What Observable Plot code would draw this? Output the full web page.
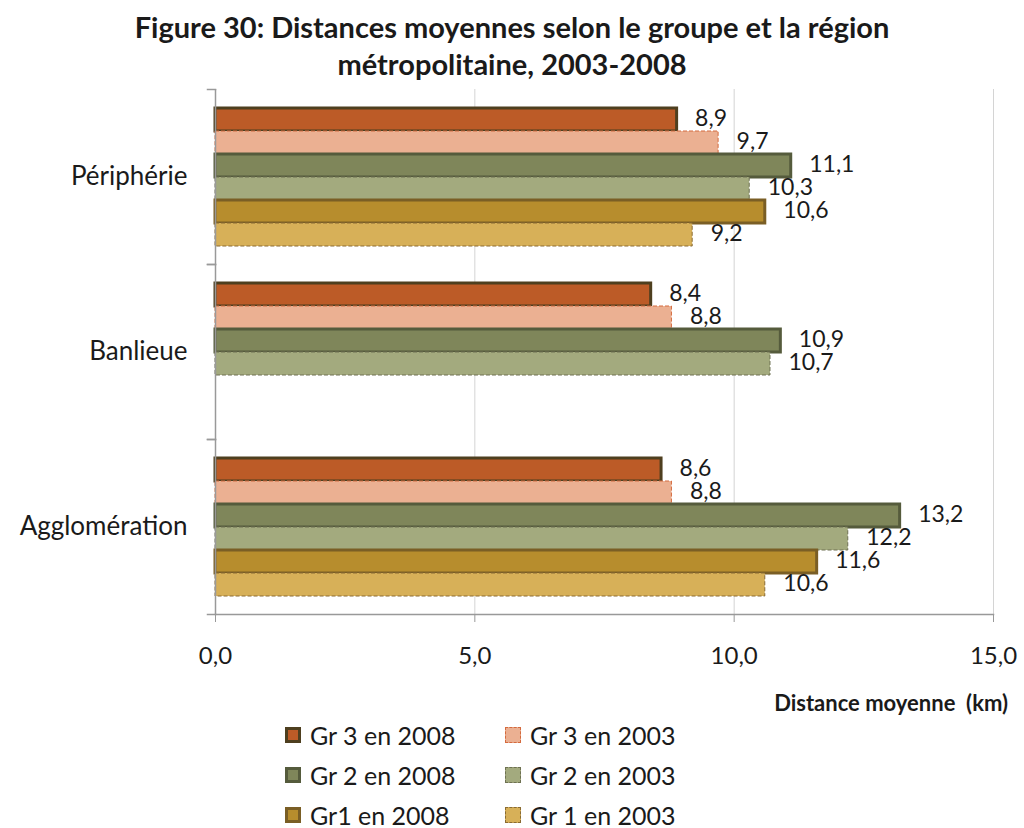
<!DOCTYPE html>
<html>
<head>
<meta charset="utf-8">
<script src="https://cdn.jsdelivr.net/npm/d3@7"></script>
<script src="https://cdn.jsdelivr.net/npm/@observablehq/plot@0.6"></script>
<style>
  body { margin: 0; background: #fff; font-family: Lato, "Open Sans", sans-serif; color: #1a1a1a; }
  #wrap { position: relative; width: 1024px; height: 828px; }
  #title { position: absolute; left: 0; top: 8px; width: 1024px; text-align: center; font-weight: bold; font-size: 29px; line-height: 37px; }
  #chart { position: absolute; left: 0; top: 80px; }
  #xlabel { position: absolute; right: 16px; top: 689px; font-weight: bold; font-size: 22px; }
  .leg { position: absolute; font-size: 25px; display: flex; align-items: center; white-space: nowrap; }
  .sw { width: 16px; height: 16px; box-sizing: border-box; margin-right: 9px; }
</style>
</head>
<body>
<div id="wrap">
  <div id="title">Figure 30: Distances moyennes selon le groupe et la région<br>métropolitaine, 2003-2008</div>
  <div id="chart"></div>
  <div id="xlabel">Distance moyenne&nbsp; (km)</div>
  <div id="legend"></div>
</div>
<script>
// ---- data ----
const regions = ["Périphérie", "Banlieue", "Agglomération"];
const series = ["Gr 3 en 2008", "Gr 3 en 2003", "Gr 2 en 2008", "Gr 2 en 2003", "Gr1 en 2008", "Gr 1 en 2003"];
const peripherie = [8.9, 9.7, 11.1, 10.3, 10.6, 9.2];
const banlieue = [8.4, 8.8, 10.9, 10.7, null, null];
const agglomeration = [8.6, 8.8, 13.2, 12.2, 11.6, 10.6];
const xTicks = [0, 5, 10, 15];

// ---- styles ----
const fills = ["#BC5B27", "#EBB092", "#7F865A", "#A3AA7E", "#B78D2D", "#D7B058"];
const strokes = ["#4E3F1F", "#D46A3E", "#555B3C", "#6E7152", "#7A5E25", "#8A6B32"];
const solid = [true, false, true, false, true, false];

const valuesByRegion = [peripherie, banlieue, agglomeration];
const rows = [];
regions.forEach((r, i) => series.forEach((s, j) => {
  rows.push({region: r, series: s, value: valuesByRegion[i][j]});
}));

const fmt = v => v == null ? "" : (+v).toFixed(1).replace(".", ",");

const W = 1024, mL = 215, mR = 31;
const plotW = W - mL - mR;

const barMarks = series.map((s, j) => Plot.barX(rows, {
  filter: d => d.series === s && d.value != null,
  x: "value", y: "series",
  fill: fills[j], stroke: strokes[j],
  strokeWidth: solid[j] ? 3 : 1,
  strokeDasharray: solid[j] ? null : "4,2",
  insetTop: 0, insetBottom: 0
}));

const chart = Plot.plot({
  width: W, height: 595,
  marginLeft: mL, marginRight: mR, marginTop: 8, marginBottom: 60,
  style: {fontSize: "24px", fontFamily: "Lato, 'Open Sans', sans-serif", color: "#1a1a1a", background: "white"},
  facet: {data: rows, y: "region"},
  fy: {domain: regions, padding: 0},
  y: {domain: series, paddingInner: 0, paddingOuter: 0.667, axis: null},
  x: {domain: [0, 15]},
  marks: [
    Plot.ruleX([5, 10, 15], {stroke: "#d4d4d4", strokeWidth: 1}),
    ...barMarks,
    Plot.ruleX([0], {stroke: "#999", strokeWidth: 1.5}),
    Plot.frame({anchor: "top", stroke: "#999", strokeWidth: 1.5, insetLeft: -8, insetRight: plotW}),
    Plot.frame({anchor: "bottom", stroke: "#999", strokeWidth: 1.5, insetLeft: -8, insetRight: plotW}),
    Plot.frame({anchor: "bottom", stroke: "#999", strokeWidth: 1.5, facetAnchor: "bottom"}),
    Plot.text(rows, {
      filter: d => d.value != null,
      x: "value", y: "series", text: d => fmt(d.value),
      dx: 18, dy: -1, textAnchor: "start", fill: "#1a1a1a", fontSize: 23
    }),
    Plot.axisX({ticks: xTicks, tickFormat: fmt, tickSize: 8, tickPadding: 24, stroke: "#999", fill: "#1a1a1a", label: null, fontSize: 24}),
    Plot.axisFy({anchor: "left", tickSize: 0, tickPadding: 28, label: null, fontSize: 26, fill: "#1a1a1a"})
  ]
});
document.getElementById("chart").appendChild(chart);

// ---- legend ----
const legend = document.getElementById("legend");
const legX = [285, 505];
const legY = [735, 775, 815];
series.forEach((s, j) => {
  const col = j % 2, row = Math.floor(j / 2);
  const item = document.createElement("div");
  item.className = "leg";
  item.style.left = legX[col] + "px";
  item.style.top = (legY[row] - 15) + "px";
  item.style.height = "30px";
  const sw = document.createElement("span");
  sw.className = "sw";
  sw.style.background = fills[j];
  sw.style.border = solid[j] ? `3px solid ${strokes[j]}` : `1px dashed ${strokes[j]}`;
  item.appendChild(sw);
  item.appendChild(document.createTextNode(s));
  legend.appendChild(item);
});
</script>
</body>
</html>
